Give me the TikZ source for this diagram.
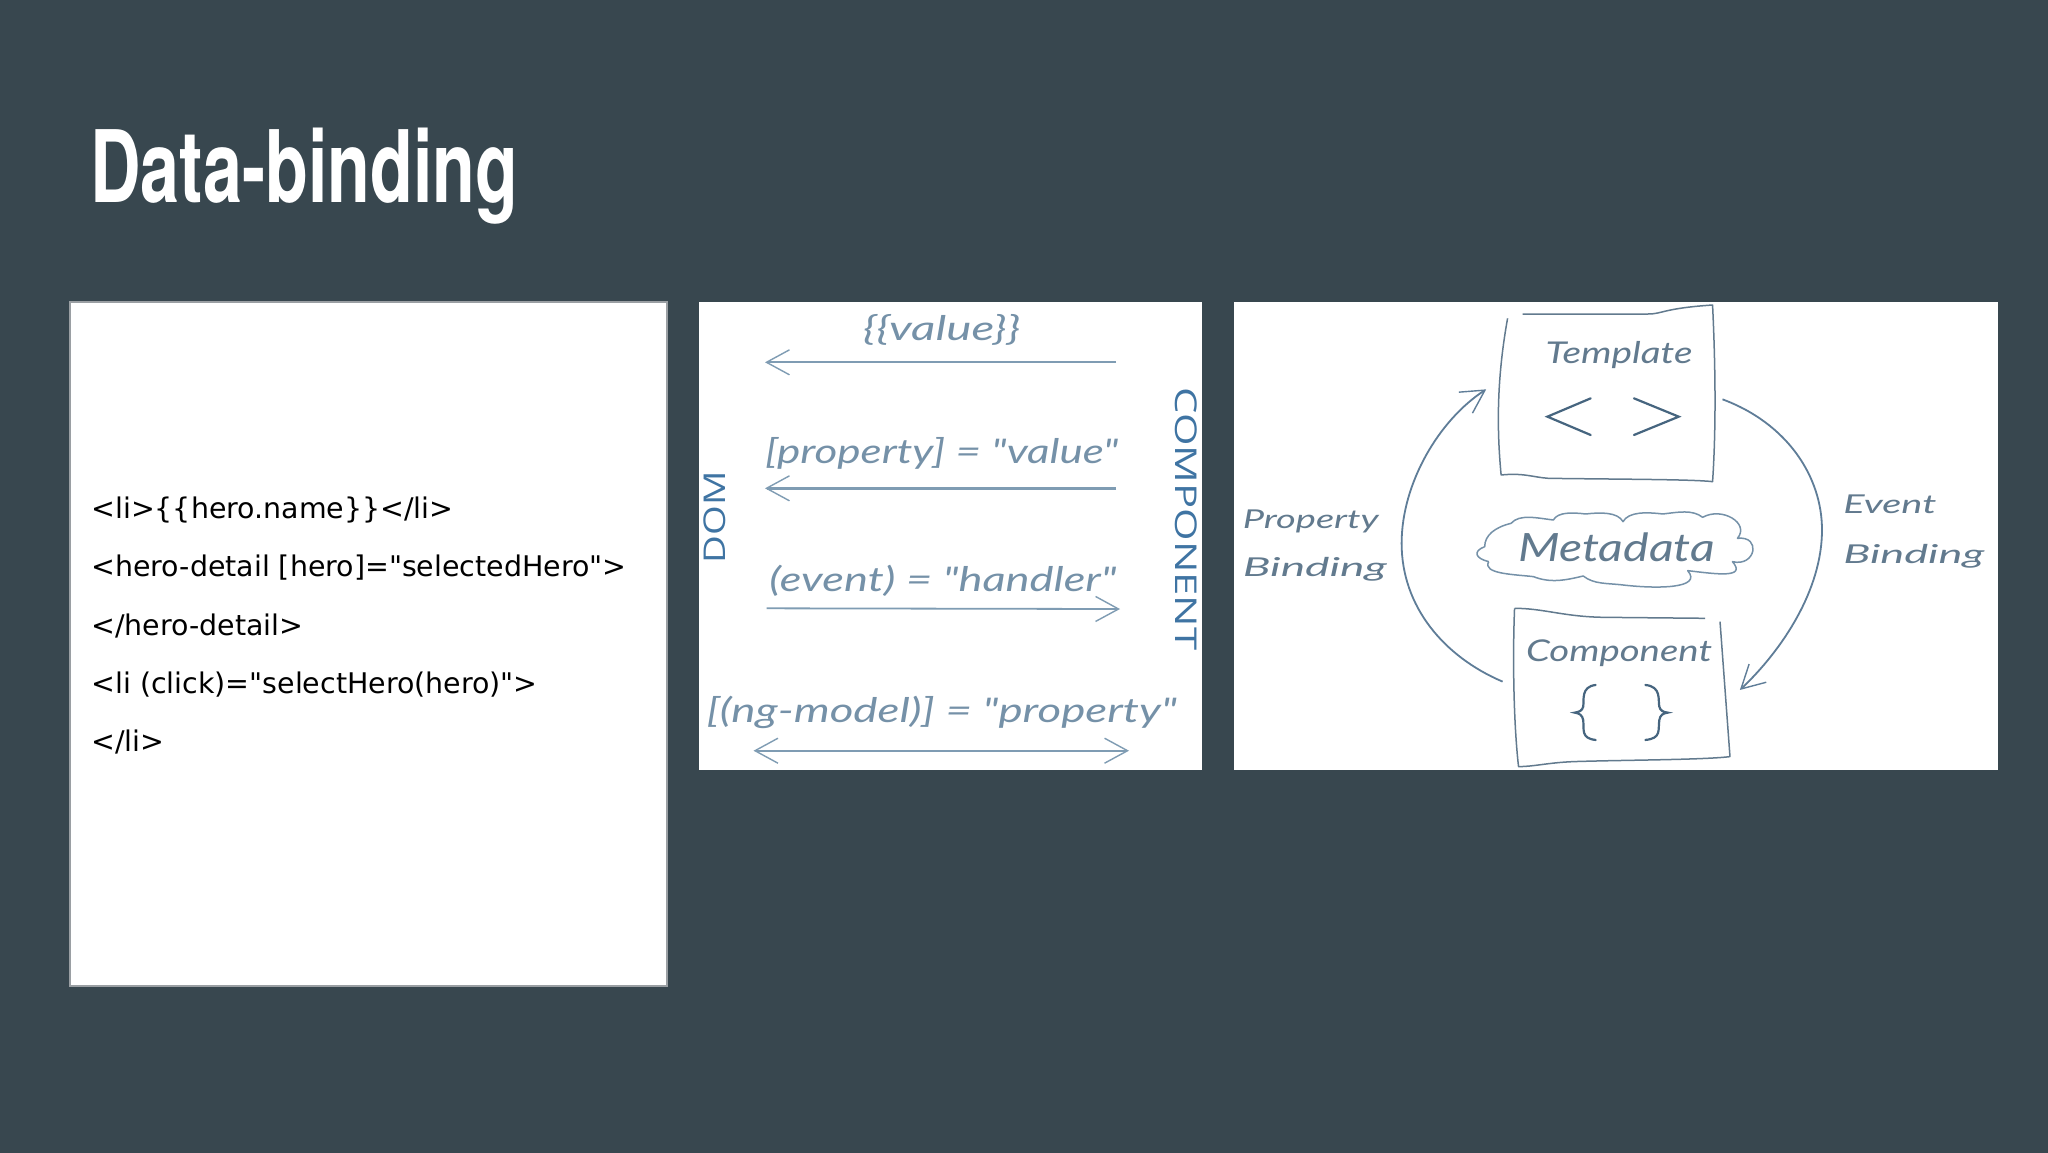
\documentclass[tikz,border=0pt]{standalone}
\usepackage{fontspec}
\usepackage{graphicx}
\usetikzlibrary{arrows.meta}
\newfontfamily\codefont{DejaVu Sans}
\newfontfamily\titlefont{TeX Gyre Heros}[BoldFont=* Bold]
\newfontfamily\handfont{Lato Italic}
\newfontfamily\dirfont{Open Sans}
\newdimen\pxu \pxu=0.5pt
\newcommand{\fitw}[2]{\resizebox{#1\pxu}{\height}{#2}}
\definecolor{slide}{HTML}{38474F}
\definecolor{cardedge}{HTML}{9A9FA3}
\definecolor{inkA}{HTML}{7591A8}
\definecolor{inkB}{HTML}{627A8E}
\definecolor{lineA}{HTML}{7F9CB3}
\definecolor{lineB}{HTML}{5F7D98}
\definecolor{dirblue}{HTML}{3F74A3}
\definecolor{glyph}{HTML}{46657F}
\tikzset{
  panel/.style={fill=white,draw=none},
  code/.style={anchor=base west,inner sep=0pt,text=black,font=\codefont\fontsize{14.22pt}{17pt}\selectfont},
  hand/.style={anchor=base,inner sep=0pt,text=inkA,font=\handfont\fontsize{17pt}{20pt}\selectfont},
  handB/.style={anchor=base,inner sep=0pt,text=inkB,font=\handfont\fontsize{15pt}{18pt}\selectfont},
  dir/.style={inner sep=0pt,text=dirblue,font=\dirfont\fontsize{15pt}{18pt}\selectfont},
  flow/.style={draw=lineA,line width=0.9pt},
  barb/.style={-{Straight Barb[length=11.5pt,width=12.5pt,line width=0.7pt]}},
  arc/.style={draw=lineB,line width=0.9pt,barb},
  sketch/.style={draw=inkB,line width=0.75pt,line join=round},
  glyphline/.style={draw=glyph,line width=1.1pt,line cap=round,line join=miter},
}
\begin{document}
\begin{tikzpicture}[x=0.5pt,y=-0.5pt]
\useasboundingbox (0,0) rectangle (2048,1152);
\fill[slide] (-6,-6) rectangle (2054,1158);
% title
\node[anchor=base west,inner sep=0pt,text=white,font=\titlefont\bfseries\fontsize{50pt}{56pt}\selectfont] (title) at (90,202.5) {\fitw{428}{Data-binding}};
% code card
\path[panel,draw=cardedge,line width=1pt] (69.5,302) rectangle (667,986);
\node[code] (l1) at (91,518.6) {<li>\{\{hero.name\}\}</li>};
\node[code] (l2) at (91,576.6) {<hero-detail [hero]="selectedHero">};
\node[code] (l3) at (91,635) {</hero-detail>};
\node[code] (l4) at (91,693.6) {<li (click)="selectHero(hero)">};
\node[code] (l5) at (91,751.6) {</li>};
% middle panel
\path[panel] (698.7,302.3) rectangle (1201.7,770);
\node[hand] (value) at (941.7,340) {\fitw{157}{\{\{value\}\}}};
\node[hand] (prop) at (941.7,463) {\fitw{353}{[property] = "value"}};
\node[hand] (event) at (943,591.7) {\fitw{347}{(event) = "handler"}};
\node[hand] (model) at (941.7,722) {\fitw{470}{[(ng-model)] = "property"}};
\node[dir,rotate=90] (dom) at (715,517) {\fitw{92}{DOM}};
\node[dir,rotate=-90] (comp) at (1186,519) {\fitw{263}{COMPONENT}};
\coordinate (a1s) at (1116,362.3); \coordinate (a1e) at (765,362.3);
\coordinate (a2s) at (1116,488.3); \coordinate (a2e) at (765,488.3);
\coordinate (a3s) at (766.7,608.3); \coordinate (a3e) at (1120,609);
\coordinate (a4s) at (753.5,750.7); \coordinate (a4e) at (1129,750.7);
\draw[flow,barb] (a1s) -- (a1e);
\draw[flow,barb,line width=1.2pt] (a2s) -- (a2e);
\draw[flow,barb] (a3s) -- (a3e);
\draw[flow,{Straight Barb[length=11.5pt,width=12.5pt,line width=0.7pt]}-{Straight Barb[length=11.5pt,width=12.5pt,line width=0.7pt]}] (a4s) -- (a4e);
% right panel
\path[panel] (1234,302.3) rectangle (1997.6,770);
\begin{scope}[shift={(1225,290)},xscale=0.4975,yscale=0.3333]
  \draw[sketch] (598,72) -- (850,72) .. controls (880,72) and (880,55) .. (980,45) .. controls (985,200) and (988,400) .. (980,575) .. controls (940,568) and (800,568) .. (650,565) .. controls (620,562) and (600,548) .. (555,555) .. controls (545,400) and (548,250) .. (568,85);
  \draw[sketch] (582,955) .. controls (640,955) and (680,980) .. (760,982) -- (965,985);
  \draw[sketch] (995,995) -- (1015,1400) .. controls (960,1410) and (800,1410) .. (700,1415) .. controls (650,1418) and (620,1430) .. (590,1430) .. controls (580,1300) and (578,1100) .. (582,955);
  \node[handB] (tmpl) at (792,220) {\fitw{147}{Template}};
  \node[handB] (cmpn) at (792,1115) {\fitw{186}{Component}};
  \node[handB,font=\handfont\fontsize{19.5pt}{22pt}\selectfont] (meta) at (787,815) {\fitw{197}{Metadata}};
  \node[handB,anchor=base west,font=\handfont\fontsize{13pt}{16pt}\selectfont] (pb1) at (35,715) {\fitw{136}{Property}};
  \node[handB,anchor=base west,font=\handfont\fontsize{13pt}{16pt}\selectfont] (pb2) at (35,860) {\fitw{144}{Binding}};
  \node[handB,anchor=base west,font=\handfont\fontsize{13pt}{16pt}\selectfont] (eb1) at (1242,670) {\fitw{93}{Event}};
  \node[handB,anchor=base west,font=\handfont\fontsize{13pt}{16pt}\selectfont] (eb2) at (1242,820) {\fitw{141}{Binding}};
  \draw[glyphline] (735,325) -- (648,380) -- (735,435);
  \draw[glyphline] (822,325) -- (912,380) -- (822,435);
  \draw[glyphline] (745,1185) .. controls (715,1190) and (722,1230) .. (720,1250) .. controls (718,1262) and (712,1266) .. (703,1268) .. controls (712,1270) and (718,1275) .. (720,1290) .. controls (722,1320) and (715,1345) .. (745,1350);
  \draw[glyphline] (845,1185) .. controls (878,1190) and (870,1230) .. (873,1250) .. controls (875,1262) and (880,1266) .. (890,1268) .. controls (880,1270) and (875,1275) .. (873,1290) .. controls (870,1320) and (878,1345) .. (845,1350);
  \coordinate (ebs) at (1000,328); \coordinate (ebm) at (1200,720); \coordinate (ebe) at (1035,1200);
  \coordinate (pbs) at (558,1175); \coordinate (pbm) at (355,760); \coordinate (pbe) at (525,298);
  \draw[arc] (ebs) .. controls (1130,400) and (1200,560) .. (ebm) .. controls (1200,900) and (1120,1080) .. (ebe);
  \draw[arc] (pbs) .. controls (440,1100) and (355,950) .. (pbm) .. controls (355,580) and (430,390) .. (pbe);
  \draw[sketch,draw=inkA] (530,815) to[out=160,in=210,looseness=1.6] (522,770) to[out=90,in=200] (575,700)
    to[out=60,in=170] (660,690) to[out=70,in=170] (725,672) to[out=10,in=110] (800,695)
    to[out=70,in=170] (880,672) to[out=10,in=130] (960,682) to[out=40,in=60,looseness=1.4] (1030,745)
    to[out=10,in=-20,looseness=1.8] (1020,815) to[out=-60,in=-10,looseness=1.6] (930,842)
    to[out=-60,in=-10,looseness=1.2] (800,885) to[out=170,in=-50] (720,858)
    to[out=-160,in=-30] (620,860) to[out=170,in=-110] (530,815);
\end{scope}
\end{tikzpicture}
\end{document}
